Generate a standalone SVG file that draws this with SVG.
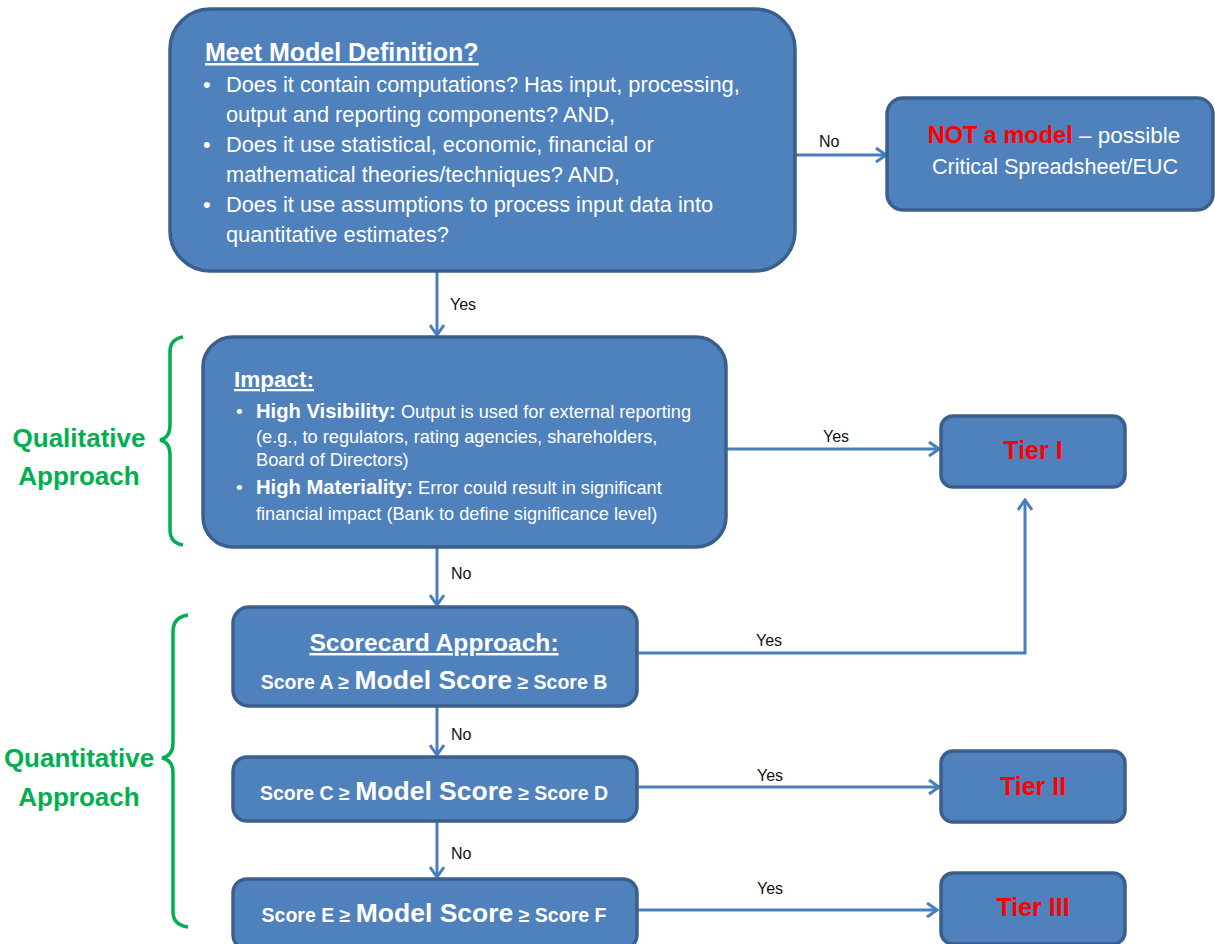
<svg xmlns="http://www.w3.org/2000/svg" width="1215" height="944" viewBox="0 0 1215 944">
<style>
.box{fill:#4F81BD;stroke:#3A5F8C;stroke-width:3.5}
.w{fill:#fff;font-family:"Liberation Sans",Arial,sans-serif}
.b{font-weight:bold}
.red{fill:#FF0000;font-weight:bold}
.lbl{fill:#111;font-family:"Liberation Sans",Arial,sans-serif;font-size:16px}
.grn{fill:#00B050;font-family:"Liberation Sans",Arial,sans-serif;font-weight:bold;font-size:26px}
.con{stroke:#4A7EBB;stroke-width:3;fill:none}
.brace{stroke:#00B050;stroke-width:3.5;fill:none}
</style>
<defs>
<marker id="ah" markerWidth="14" markerHeight="16" refX="12" refY="8" orient="auto" markerUnits="userSpaceOnUse">
<path d="M2,1 L12,8 L2,15" fill="none" stroke="#4A7EBB" stroke-width="3"/>
</marker>
</defs>

<g id="connectors">
<line class="con" x1="795" y1="155" x2="886" y2="155" marker-end="url(#ah)"/>
<line class="con" x1="437" y1="272" x2="437" y2="335" marker-end="url(#ah)"/>
<line class="con" x1="726" y1="449" x2="939" y2="449" marker-end="url(#ah)"/>
<line class="con" x1="437" y1="547" x2="437" y2="605" marker-end="url(#ah)"/>
<polyline class="con" points="637,653 1025,653 1025,500" marker-end="url(#ah)"/>
<line class="con" x1="437" y1="706" x2="437" y2="755" marker-end="url(#ah)"/>
<line class="con" x1="637" y1="787" x2="939" y2="787" marker-end="url(#ah)"/>
<line class="con" x1="437" y1="821" x2="437" y2="877" marker-end="url(#ah)"/>
<line class="con" x1="637" y1="910" x2="937" y2="910" marker-end="url(#ah)"/>
<text class="lbl" x="819" y="147">No</text>
<text class="lbl" x="450" y="310">Yes</text>
<text class="lbl" x="823" y="442">Yes</text>
<text class="lbl" x="451" y="579">No</text>
<text class="lbl" x="756" y="646">Yes</text>
<text class="lbl" x="451" y="740">No</text>
<text class="lbl" x="757" y="781">Yes</text>
<text class="lbl" x="451" y="859">No</text>
<text class="lbl" x="757" y="894">Yes</text>
</g>

<g id="definition">
<rect class="box" x="170" y="9" width="625" height="262" rx="40"/>
<text class="w b" x="205" y="61" font-size="25" text-decoration="underline">Meet Model Definition?</text>
<g class="w" font-size="21.8">
<text x="203" y="92">•</text>
<text x="226" y="92">Does it contain computations? Has input, processing,</text>
<text x="226" y="122">output and reporting components? AND,</text>
<text x="203" y="152">•</text>
<text x="226" y="152">Does it use statistical, economic, financial or</text>
<text x="226" y="182">mathematical theories/techniques? AND,</text>
<text x="203" y="212">•</text>
<text x="226" y="212">Does it use assumptions to process input data into</text>
<text x="226" y="242">quantitative estimates?</text>
</g>
</g>

<g id="not-model">
<rect class="box" x="887" y="98" width="326" height="112" rx="16"/>
<text class="w" x="1054" y="143" font-size="22.5" text-anchor="middle"><tspan class="red" font-size="23.5">NOT a model</tspan> – possible</text>
<text class="w" x="1055" y="174" font-size="21.6" text-anchor="middle">Critical Spreadsheet/EUC</text>
</g>

<g id="impact">
<rect class="box" x="203" y="337" width="523" height="210" rx="30"/>
<text class="w b" x="234" y="387" font-size="22.5" text-decoration="underline">Impact:</text>
<g class="w" font-size="18.2">
<text x="236" y="418" font-size="19">•</text>
<text x="256" y="418"><tspan class="b" font-size="20.2">High Visibility:</tspan> Output is used for external reporting</text>
<text x="256" y="443">(e.g., to regulators, rating agencies, shareholders,</text>
<text x="256" y="466">Board of Directors)</text>
<text x="236" y="494" font-size="19">•</text>
<text x="256" y="494"><tspan class="b" font-size="20.2">High Materiality:</tspan> Error could result in significant</text>
<text x="256" y="520">financial impact (Bank to define significance level)</text>
</g>
</g>

<g id="qualitative">
<path class="brace" d="M183,337 Q170,339 170,352 L170,425 Q170,438 160,440 Q170,442 170,455 L170,530 Q170,543 183,545"/>
<text class="grn" x="79" y="447" text-anchor="middle">Qualitative</text>
<text class="grn" x="79" y="485" text-anchor="middle">Approach</text>
</g>

<g id="tier1">
<rect class="box" x="941" y="416" width="184" height="71" rx="12"/>
<text class="red" x="1033" y="459" font-size="25" font-family="Liberation Sans,Arial,sans-serif" text-anchor="middle">Tier I</text>
</g>

<g id="scorecard">
<rect class="box" x="233" y="607" width="404" height="99" rx="16"/>
<text class="w b" x="434" y="651" font-size="24.6" text-anchor="middle" text-decoration="underline">Scorecard Approach:</text>
<text class="w b" x="434" y="689" font-size="19.5" text-anchor="middle">Score A ≥ <tspan font-size="26.5">Model Score</tspan> ≥ Score B</text>
</g>

<g id="score-cd">
<rect class="box" x="233" y="757" width="404" height="64" rx="14"/>
<text class="w b" x="434" y="800" font-size="19.5" text-anchor="middle">Score C ≥ <tspan font-size="26.5">Model Score</tspan> ≥ Score D</text>
</g>

<g id="tier2">
<rect class="box" x="941" y="751" width="184" height="71" rx="12"/>
<text class="red" x="1033" y="795" font-size="25" font-family="Liberation Sans,Arial,sans-serif" text-anchor="middle">Tier II</text>
</g>

<g id="score-ef">
<rect class="box" x="233" y="879" width="404" height="70" rx="14"/>
<text class="w b" x="434" y="922" font-size="19.5" text-anchor="middle">Score E ≥ <tspan font-size="26.5">Model Score</tspan> ≥ Score F</text>
</g>

<g id="tier3">
<rect class="box" x="941" y="873" width="184" height="71" rx="12"/>
<text class="red" x="1033" y="916" font-size="25" font-family="Liberation Sans,Arial,sans-serif" text-anchor="middle">Tier III</text>
</g>

<g id="quantitative">
<path class="brace" d="M188,615 Q173,617 173,632 L173,743 Q173,756 162,758 Q173,760 173,773 L173,912 Q173,925 188,927"/>
<text class="grn" x="79" y="767" text-anchor="middle">Quantitative</text>
<text class="grn" x="79" y="806" text-anchor="middle">Approach</text>
</g>
</svg>
